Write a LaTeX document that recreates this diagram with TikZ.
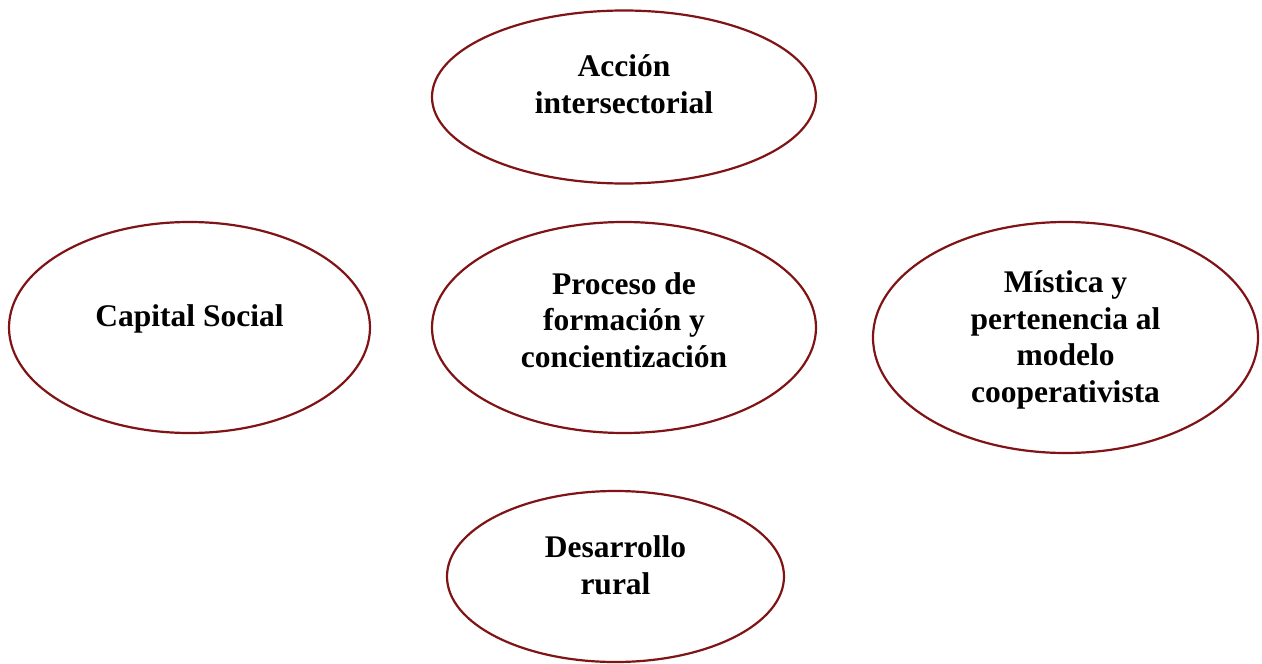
\documentclass[tikz,border=0pt]{standalone}
\usepackage{fontspec}
\setmainfont{Liberation Serif}
\usetikzlibrary{shapes.geometric}
\definecolor{ered}{HTML}{7F1315}
\tikzset{
  oval/.style={draw=ered, line width=2.2pt, ellipse, inner sep=0pt},
  lbl/.style={align=center, font=\fontsize{31.5}{36.6}\selectfont\bfseries, text=black}
}
\begin{document}
\begin{tikzpicture}[x=1pt,y=-1pt]
\useasboundingbox (0,0) rectangle (1262,664);
\node[oval, minimum width=384pt, minimum height=173pt] (accion) at (624,97) {};
\node[oval, minimum width=361pt, minimum height=211pt] (capital) at (189.5,327.5) {};
\node[oval, minimum width=384pt, minimum height=211pt] (proceso) at (624,327.5) {};
\node[oval, minimum width=385pt, minimum height=231pt] (mistica) at (1065.5,337.5) {};
\node[oval, minimum width=337pt, minimum height=171pt] (desarrollo) at (615.5,576.5) {};
\node[lbl] (taccion) at (624,84) {Acción\\intersectorial};
\node[lbl] (tcapital) at (189.5,319) {Capital Social};
\node[lbl] (tproceso) at (624,320) {Proceso de\\formación y\\concientización};
\node[lbl] (tmistica) at (1065.5,340) {Mística y\\pertenencia al\\modelo\\cooperativista};
\node[lbl] (tdesarrollo) at (615.5,565) {Desarrollo\\rural};
\end{tikzpicture}
\end{document}
